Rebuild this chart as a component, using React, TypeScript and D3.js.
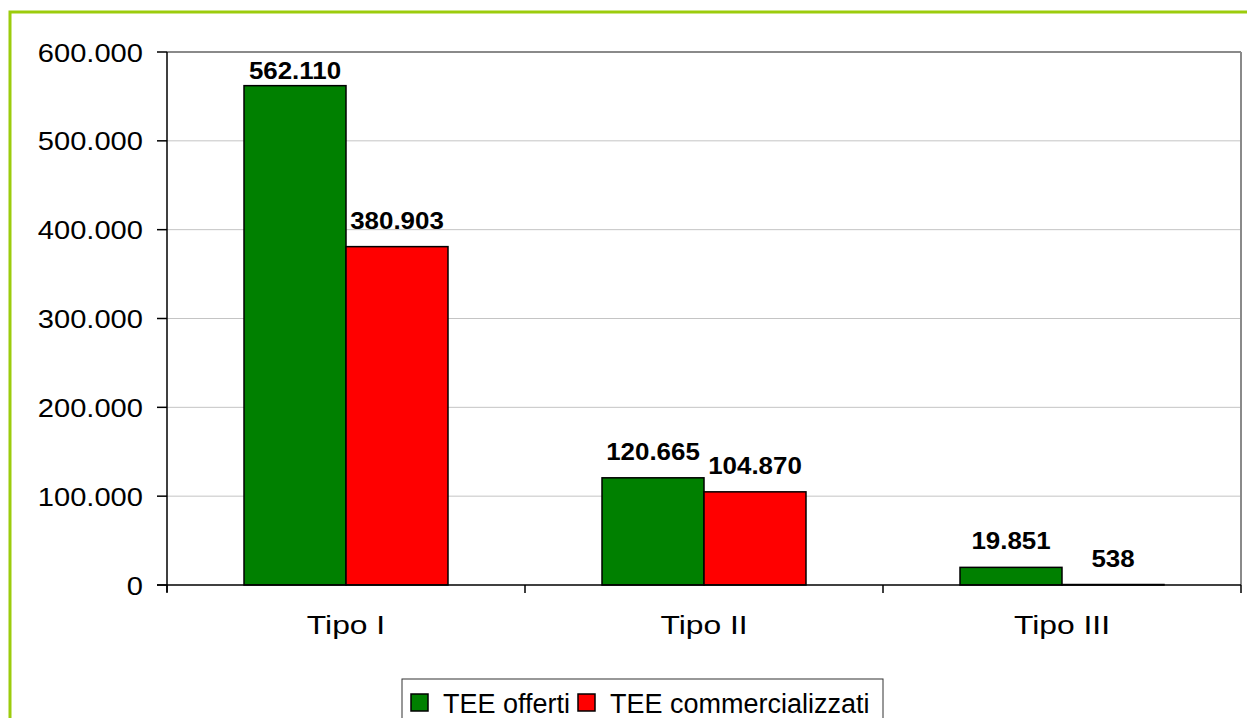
import React from "react";
import * as d3 from "d3";

// Categories and series values
const categories: string[] = ["Tipo I", "Tipo II", "Tipo III"];
const seriesNames: string[] = ["TEE offerti", "TEE commercializzati"];
const teeOfferti: number[] = [562110, 120665, 19851];
const teeCommercializzati: number[] = [380903, 104870, 538];
const seriesColors: string[] = ["#008000", "#ff0000"];
const yTicks: number[] = [0, 100000, 200000, 300000, 400000, 500000, 600000];

const W = 1247;
const H = 718;
const plot = { left: 167, right: 1241, top: 52, bottom: 585 };

const itLocale = d3.formatLocale({
  decimal: ",",
  thousands: ".",
  grouping: [3],
  currency: ["", " €"],
});
const fmt = itLocale.format(",d");

const FONT = "Arial, 'Liberation Sans', Helvetica, sans-serif";

function StretchText(props: {
  x: number;
  y: number;
  sx: number;
  size: number;
  anchor: "start" | "middle" | "end";
  bold?: boolean;
  children: React.ReactNode;
}) {
  const { x, y, sx, size, anchor, bold, children } = props;
  return (
    <g transform={`translate(${x},${y}) scale(${sx},1)`}>
      <text
        x={0}
        y={0}
        textAnchor={anchor}
        fontFamily={FONT}
        fontSize={size}
        fontWeight={bold ? "bold" : "normal"}
        fill="#000"
      >
        {children}
      </text>
    </g>
  );
}

export default function App() {
  const x0 = d3
    .scaleBand<string>()
    .domain(categories)
    .range([plot.left, plot.right])
    .paddingInner(0)
    .paddingOuter(0);
  const x1 = d3
    .scaleBand<string>()
    .domain(seriesNames)
    .range([0, x0.bandwidth()])
    .paddingInner(0)
    .paddingOuter(0.755);
  const y = d3.scaleLinear().domain([0, 600000]).range([plot.bottom, plot.top]);

  const seriesValues = [teeOfferti, teeCommercializzati];

  const bars = categories.flatMap((cat, ci) =>
    seriesNames.map((s, si) => ({
      cat,
      s,
      si,
      value: seriesValues[si][ci],
      x: (x0(cat) ?? 0) + (x1(s) ?? 0),
      w: x1.bandwidth(),
    }))
  );

  const catEdges = [...categories.map((c) => x0(c) ?? 0), plot.right];

  // legend layout
  const legend = { x: 402, y: 679, w: 481, h: 50 };
  const legendItems = [
    { name: seriesNames[0], color: seriesColors[0], sw: 411, tx: 443 },
    { name: seriesNames[1], color: seriesColors[1], sw: 578, tx: 610 },
  ];

  return (
    <svg
      width={W}
      height={H}
      style={{ position: "fixed", left: 0, top: 0, background: "#fff" }}
    >
      <rect x={0} y={0} width={W} height={H} fill="#fff" />
      {/* outer chart frame */}
      <rect
        x={10}
        y={12}
        width={W + 20}
        height={H + 20}
        fill="#fff"
        stroke="#9ccc0c"
        strokeWidth={3}
      />

      {/* gridlines */}
      {yTicks.slice(1).map((t) => (
        <line
          key={`g${t}`}
          x1={plot.left}
          x2={plot.right}
          y1={y(t)}
          y2={y(t)}
          stroke="#c4c4c4"
          strokeWidth={1}
        />
      ))}
      {/* plot border top/right */}
      <line x1={plot.left} x2={plot.right} y1={plot.top} y2={plot.top} stroke="#8a8a8a" strokeWidth={2} />
      <line x1={plot.right} x2={plot.right} y1={plot.top} y2={plot.bottom} stroke="#8a8a8a" strokeWidth={2} />

      {/* bars */}
      {bars.map((b) => (
        <rect
          key={`${b.cat}-${b.s}`}
          x={b.x}
          y={y(b.value)}
          width={b.w}
          height={plot.bottom - y(b.value)}
          fill={seriesColors[b.si]}
          stroke="#000"
          strokeWidth={1.5}
        />
      ))}

      {/* axes */}
      <line x1={plot.left} x2={plot.left} y1={plot.top} y2={plot.bottom + 7} stroke="#000" strokeWidth={1.5} />
      <line x1={plot.left - 10} x2={plot.right} y1={plot.bottom} y2={plot.bottom} stroke="#000" strokeWidth={1.5} />
      {yTicks.map((t) => (
        <line key={`t${t}`} x1={plot.left - 10} x2={plot.left} y1={y(t)} y2={y(t)} stroke="#000" strokeWidth={1.5} />
      ))}
      {catEdges.map((e, i) => (
        <line key={`c${i}`} x1={e} x2={e} y1={plot.bottom} y2={plot.bottom + 8} stroke="#000" strokeWidth={1.5} />
      ))}

      {/* y tick labels */}
      {yTicks.map((t) => (
        <StretchText key={`l${t}`} x={143} y={y(t) + 9.5} sx={1.12} size={26} anchor="end">
          {fmt(t)}
        </StretchText>
      ))}

      {/* category labels */}
      {categories.map((c) => (
        <StretchText
          key={`cat${c}`}
          x={(x0(c) ?? 0) + x0.bandwidth() / 2}
          y={634}
          sx={1.2}
          size={26.5}
          anchor="middle"
        >
          {c}
        </StretchText>
      ))}

      {/* value labels */}
      {bars.map((b) => (
        <StretchText
          key={`v${b.cat}-${b.s}`}
          x={b.x + b.w / 2}
          y={Math.max(y(b.value) - 18, plot.top + 27)}
          sx={1.08}
          size={24}
          anchor="middle"
          bold
        >
          {fmt(b.value)}
        </StretchText>
      ))}

      {/* legend */}
      <rect x={legend.x} y={legend.y} width={legend.w} height={legend.h} fill="#fff" stroke="#333" strokeWidth={1} />
      {legendItems.map((it) => (
        <g key={it.name}>
          <rect x={it.sw} y={694} width={17} height={17} fill={it.color} stroke="#000" strokeWidth={1.5} />
          <text x={it.tx} y={713} fontFamily={FONT} fontSize={27} fill="#000">
            {it.name}
          </text>
        </g>
      ))}
    </svg>
  );
}
